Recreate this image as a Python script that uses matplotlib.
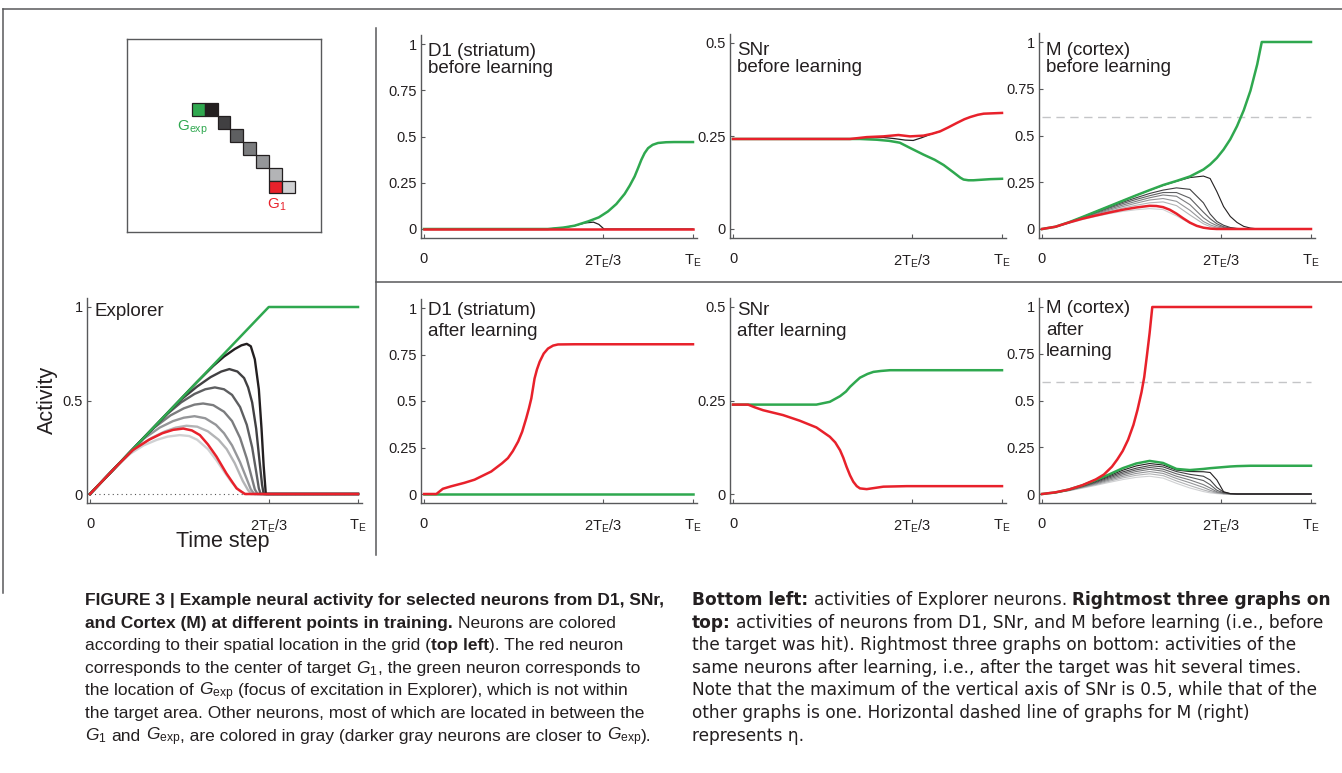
import matplotlib
matplotlib.use('Agg')
import matplotlib.pyplot as plt
from matplotlib.lines import Line2D
from matplotlib.patches import Rectangle

W, H = 1342, 773
plt.rcParams['font.family'] = ['Liberation Sans', 'DejaVu Sans']
plt.rcParams['mathtext.fontset'] = 'custom'
plt.rcParams['mathtext.rm'] = 'Liberation Sans'
plt.rcParams['mathtext.it'] = 'Liberation Sans:italic'
plt.rcParams['mathtext.bf'] = 'Liberation Sans:bold'
LEFT_FONT = ['Liberation Sans', 'DejaVu Sans']
RIGHT_FONT = ['DejaVu Sans']

GREEN = '#2fa84f'
RED = '#e8212b'
TXT = '#231f20'
SPINE = '#58595b'
# black -> lightest gray (neurons from G_exp towards G_1)
SHADES = ['#231f20', '#414042', '#5e5f61', '#7b7c7e', '#959699', '#b3b4b6', '#d0d1d3']

# ---- grid inset (cell column, row, colour) ----
grid_cols = [5, 6, 7, 8, 9, 10, 11, 11, 12]
grid_rows = [5, 5, 6, 7, 8, 9, 10, 11, 11]
grid_colors = [GREEN] + SHADES[:6] + [RED, SHADES[6]]

# ---- Explorer ----
exp_green_t = [0, 0.667, 1.0]
exp_green_v = [0, 1.0, 1.0]
exp_gray_t = [
    [0, 0.2, 0.4, 0.46, 0.5, 0.54, 0.565, 0.585, 0.6, 0.615, 0.63, 0.64, 0.648, 0.656, 1.0],
    [0, 0.2, 0.34, 0.4, 0.45, 0.49, 0.52, 0.55, 0.575, 0.59, 0.605, 0.62, 0.633, 0.642, 0.648, 1.0],
    [0, 0.2, 0.29, 0.34, 0.39, 0.43, 0.466, 0.5, 0.53, 0.56, 0.585, 0.605, 0.62, 0.63, 0.637, 1.0],
    [0, 0.15, 0.24, 0.3, 0.35, 0.39, 0.422, 0.46, 0.5, 0.53, 0.56, 0.585, 0.605, 0.615, 0.625, 1.0],
    [0, 0.15, 0.2, 0.26, 0.31, 0.35, 0.39, 0.43, 0.47, 0.5, 0.53, 0.56, 0.585, 0.6, 0.613, 1.0],
    [0, 0.1, 0.17, 0.23, 0.28, 0.32, 0.36, 0.4, 0.44, 0.48, 0.51, 0.54, 0.57, 0.59, 0.603, 1.0],
    [0, 0.1, 0.15, 0.2, 0.25, 0.29, 0.335, 0.37, 0.4, 0.44, 0.472, 0.5, 0.53, 0.56, 0.58, 1.0],
]
exp_gray_v = [
    [0, 0.30, 0.60, 0.685, 0.735, 0.775, 0.795, 0.803, 0.79, 0.72, 0.56, 0.35, 0.15, 0, 0],
    [0, 0.30, 0.505, 0.575, 0.625, 0.655, 0.668, 0.655, 0.62, 0.57, 0.49, 0.35, 0.17, 0.05, 0, 0],
    [0, 0.30, 0.43, 0.49, 0.535, 0.56, 0.57, 0.56, 0.53, 0.465, 0.37, 0.25, 0.12, 0.03, 0, 0],
    [0, 0.225, 0.355, 0.42, 0.458, 0.478, 0.484, 0.475, 0.44, 0.39, 0.3, 0.19, 0.08, 0.025, 0, 0],
    [0, 0.225, 0.295, 0.355, 0.39, 0.408, 0.416, 0.405, 0.37, 0.325, 0.26, 0.17, 0.08, 0.025, 0, 0],
    [0, 0.15, 0.245, 0.30, 0.335, 0.355, 0.365, 0.36, 0.335, 0.29, 0.24, 0.165, 0.07, 0.02, 0, 0],
    [0, 0.15, 0.215, 0.26, 0.29, 0.307, 0.315, 0.31, 0.29, 0.24, 0.18, 0.12, 0.06, 0.015, 0, 0],
]
exp_red_t = [0, 0.1, 0.16, 0.22, 0.27, 0.31, 0.348, 0.38, 0.41, 0.44, 0.472, 0.509, 0.547, 0.578, 1.0]
exp_red_v = [0, 0.15, 0.235, 0.29, 0.325, 0.343, 0.35, 0.34, 0.315, 0.265, 0.2, 0.11, 0.03, 0, 0]

# ---- D1 before / after ----
d1b_green_t = [0, 0.46, 0.52, 0.56, 0.61, 0.65, 0.684, 0.715, 0.746, 0.765, 0.783, 0.796, 0.808,
               0.82, 0.833, 0.85, 0.87, 0.9, 0.93, 1.0]
d1b_green_v = [0, 0, 0.008, 0.018, 0.041, 0.063, 0.095, 0.135, 0.19, 0.235, 0.284, 0.33, 0.374,
               0.41, 0.437, 0.455, 0.465, 0.469, 0.47, 0.47]
d1b_black_t = [0, 0.46, 0.52, 0.56, 0.6, 0.63, 0.65, 0.669, 1.0]
d1b_black_v = [0, 0, 0.008, 0.018, 0.033, 0.037, 0.025, 0, 0]
d1b_red_t = [0, 1.0]
d1b_red_v = [0, 0]

d1a_red_t = [0, 0.046, 0.07, 0.1, 0.15, 0.188, 0.25, 0.29, 0.312, 0.33, 0.35, 0.365, 0.38, 0.39,
             0.399, 0.411, 0.42, 0.43, 0.445, 0.461, 0.48, 0.498, 0.56, 1.0]
d1a_red_v = [0, 0, 0.028, 0.041, 0.06, 0.077, 0.121, 0.165, 0.193, 0.23, 0.282, 0.335, 0.407, 0.46,
             0.514, 0.621, 0.67, 0.711, 0.755, 0.782, 0.798, 0.804, 0.805, 0.805]
d1a_green_t = [0, 1.0]
d1a_green_v = [0, 0]

# ---- SNr before / after ----
snb_red_t = [0, 0.435, 0.497, 0.559, 0.615, 0.658, 0.708, 0.74, 0.77, 0.8, 0.832, 0.86, 0.882, 0.91, 0.932, 1.0]
snb_red_v = [0.242, 0.242, 0.247, 0.249, 0.2527, 0.249, 0.251, 0.256, 0.2625, 0.273, 0.285, 0.295, 0.301,
             0.307, 0.31, 0.312]
snb_green_t = [0, 0.472, 0.534, 0.58, 0.62, 0.658, 0.708, 0.75, 0.783, 0.82, 0.845, 0.857, 0.875, 0.894, 0.957, 1.0]
snb_green_v = [0.242, 0.242, 0.24, 0.237, 0.232, 0.218, 0.2, 0.186, 0.172, 0.152, 0.138, 0.133, 0.131,
               0.131, 0.134, 0.135]
snb_black_t = [0, 0.435, 0.5, 0.56, 0.6, 0.64, 0.67, 0.7, 0.74, 0.77]
snb_black_v = [0.242, 0.242, 0.245, 0.246, 0.243, 0.239, 0.238, 0.245, 0.256, 0.2625]

sna_green_t = [0, 0.31, 0.36, 0.398, 0.42, 0.435, 0.455, 0.472, 0.5, 0.522, 0.55, 0.584, 0.7, 1.0]
sna_green_v = [0.239, 0.239, 0.2465, 0.2616, 0.274, 0.2865, 0.3, 0.311, 0.321, 0.3265, 0.329, 0.331, 0.331, 0.331]
sna_red_t = [0, 0.056, 0.08, 0.112, 0.186, 0.248, 0.31, 0.36, 0.38, 0.398, 0.41, 0.422, 0.435, 0.447,
             0.46, 0.472, 0.497, 0.559, 0.646, 1.0]
sna_red_v = [0.239, 0.239, 0.232, 0.224, 0.211, 0.196, 0.178, 0.153, 0.138, 0.117, 0.097, 0.073, 0.05,
             0.033, 0.021, 0.015, 0.013, 0.0196, 0.021, 0.021]

# ---- M (cortex) before / after ----
eta = 0.6
tm = [0, 0.05, 0.1, 0.15, 0.2, 0.25, 0.3, 0.35, 0.4, 0.45, 0.5, 0.55, 0.6, 0.625, 0.65, 0.675,
      0.7, 0.725, 0.75, 0.775, 0.8, 0.85, 0.9, 1.0]
mb_gray_v = [
    [0, .012, .036, .064, .093, .122, .151, .18, .207, .233, .255, .275, .283, .27, .2, .12, .067, .035, .014, .005, .001, 0, 0, 0],
    [0, .012, .035, .062, .09, .117, .143, .167, .19, .208, .22, .212, .14, .08, .04, .02, .008, .003, .001, 0, 0, 0, 0, 0],
    [0, .012, .034, .06, .087, .112, .136, .158, .178, .195, .195, .165, .09, .055, .028, .012, .005, .002, 0, 0, 0, 0, 0, 0],
    [0, .012, .034, .058, .083, .106, .128, .148, .167, .182, .175, .13, .06, .035, .018, .008, .003, .001, 0, 0, 0, 0, 0, 0],
    [0, .012, .033, .056, .079, .1, .12, .138, .155, .163, .148, .1, .04, .022, .01, .004, .001, 0, 0, 0, 0, 0, 0, 0],
    [0, .012, .032, .054, .075, .094, .112, .127, .14, .145, .125, .075, .028, .013, .005, .002, 0, 0, 0, 0, 0, 0, 0, 0],
    [0, .011, .03, .05, .067, .082, .094, .103, .109, .104, .07, .03, .008, .003, .001, 0, 0, 0, 0, 0, 0, 0, 0, 0],
]
mb_green_t = [0, 0.05, 0.1, 0.15, 0.2, 0.25, 0.3, 0.35, 0.4, 0.45, 0.5, 0.55, 0.6, 0.625, 0.65, 0.675,
              0.7, 0.725, 0.75, 0.775, 0.8, 0.817, 1.0]
mb_green_v = [0, 0.012, 0.036, 0.064, 0.093, 0.122, 0.151, 0.18, 0.208, 0.235, 0.257, 0.281, 0.318, 0.345,
              0.38, 0.425, 0.48, 0.55, 0.635, 0.74, 0.88, 1.0, 1.0]
mb_red_t = [0, 0.05, 0.1, 0.15, 0.2, 0.25, 0.3, 0.35, 0.4, 0.425, 0.45, 0.475, 0.5, 0.525, 0.55, 0.575,
            0.6, 0.625, 0.65, 1.0]
mb_red_v = [0, 0.012, 0.035, 0.055, 0.072, 0.088, 0.103, 0.115, 0.124, 0.123, 0.117, 0.103, 0.082, 0.057,
            0.034, 0.017, 0.007, 0.002, 0, 0]

ma_gray_v = [
    [0, .008, .023, .044, .07, .098, .127, .15, .163, .155, .128, .12, .119, .115, .075, .012, .002, 0, 0, 0, 0, 0, 0, 0],
    [0, .008, .022, .042, .066, .092, .118, .138, .152, .145, .12, .105, .095, .075, .035, .01, .002, 0, 0, 0, 0, 0, 0, 0],
    [0, .008, .021, .04, .062, .086, .11, .129, .142, .133, .108, .09, .072, .05, .02, .006, .001, 0, 0, 0, 0, 0, 0, 0],
    [0, .007, .02, .038, .058, .08, .102, .12, .132, .122, .095, .075, .05, .032, .012, .004, 0, 0, 0, 0, 0, 0, 0, 0],
    [0, .007, .019, .036, .054, .074, .094, .11, .12, .11, .083, .06, .035, .02, .008, .002, 0, 0, 0, 0, 0, 0, 0, 0],
    [0, .007, .018, .034, .05, .068, .086, .1, .108, .098, .07, .045, .022, .012, .005, .001, 0, 0, 0, 0, 0, 0, 0, 0],
    [0, .006, .017, .031, .046, .062, .077, .089, .095, .085, .057, .032, .013, .006, .002, 0, 0, 0, 0, 0, 0, 0, 0, 0],
]
ma_green_v = [0, .008, .024, .046, .074, .105, .138, .163, .177, .166, .134, .128, .134, .138, .141, .144,
              .147, .149, .15, .151, .151, .151, .151, .151]
ma_red_t = [0, 0.05, 0.1, 0.15, 0.2, 0.23, 0.26, 0.28, 0.3, 0.32, 0.34, 0.355, 0.37, 0.38, 0.39, 0.4, 0.41, 1.0]
ma_red_v = [0, 0.009, 0.024, 0.047, 0.078, 0.104, 0.146, 0.185, 0.23, 0.29, 0.37, 0.45, 0.545, 0.625, 0.74,
            0.86, 1.0, 1.0]

x_tick_labels = ['0', r'$\mathregular{2T_E/3}$', r'$\mathregular{T_E}$']

fig = plt.figure(figsize=(W / 100, H / 100), dpi=100)
fig.patch.set_facecolor('white')


def panel(x0, x1, y0, y1, ymax, yticks, ylabels):
    # x0/x1: pixel column of t=0 and t=T_E, y0/y1: pixel row of 0 and ymax
    dx, dy = x1 - x0, y0 - y1
    left, right = x0 - 0.012 * dx, x0 + 1.015 * dx
    bottom, top = y0 + 0.05 * dy, y1 - 0.05 * dy
    ax = fig.add_axes([left / W, 1 - bottom / H, (right - left) / W, (bottom - top) / H])
    ax.set_xlim(-0.012, 1.015)
    ax.set_ylim(-0.05 * ymax, 1.05 * ymax)
    ax.patch.set_alpha(0)
    for s in ['top', 'right']:
        ax.spines[s].set_visible(False)
    for s in ['left', 'bottom']:
        ax.spines[s].set_color(SPINE)
        ax.spines[s].set_linewidth(1.0)
    ax.set_xticks([0, 2 / 3, 1])
    ax.set_xticklabels(x_tick_labels)
    ax.set_yticks(yticks)
    ax.set_yticklabels(ylabels)
    ax.tick_params(direction='in', length=3, width=0.8, color=SPINE, labelsize=10.5, labelcolor=TXT)
    ax.tick_params(axis='x', pad=10)
    ax.tick_params(axis='y', pad=3)
    return ax


def title(x, y, s, ls=1.0):
    fig.text(x / W, 1 - y / H, s, ha='left', va='top', fontsize=13.5, color=TXT, linespacing=ls)


Y1 = [0, 0.25, 0.5, 0.75, 1]
Y1L = ['0', '0.25', '0.5', '0.75', '1']
YS = [0, 0.25, 0.5]
YSL = ['0', '0.25', '0.5']

# grid inset
ax = fig.add_axes([127 / W, 1 - 232 / H, 194 / W, 193 / H])
ax.set_xlim(0, 15)
ax.set_ylim(15, 0)
ax.set_xticks([])
ax.set_yticks([])
for s in ax.spines.values():
    s.set_color(SPINE)
    s.set_linewidth(1.0)
for c, r, col in zip(grid_cols, grid_rows, grid_colors):
    ax.add_patch(Rectangle((c, r), 1, 1, facecolor=col, edgecolor='#231f20', lw=0.9))
fig.text(177 / W, 1 - 119 / H, r'$\mathregular{G_{exp}}$', color=GREEN, fontsize=11, va='top')
fig.text(267 / W, 1 - 197 / H, r'$\mathregular{G_1}$', color=RED, fontsize=11, va='top')

# Explorer
ax = panel(90, 358, 494, 307, 1.0, [0, 0.5, 1], ['0', '0.5', '1'])
ax.plot([0, 1], [0, 0], color='#555555', lw=0.8, ls=(0, (1, 3)))
for t, v, col in zip(exp_gray_t[::-1], exp_gray_v[::-1], SHADES[::-1]):
    ax.plot(t, v, color=col, lw=1.7)
ax.plot(exp_green_t, exp_green_v, color=GREEN, lw=1.8)
ax.plot(exp_red_t, exp_red_v, color=RED, lw=1.8)
title(94, 303, 'Explorer')
fig.text(47 / W, 1 - 400 / H, 'Activity', rotation=90, ha='center', va='center', fontsize=15.5, color=TXT)
fig.text(223 / W, 1 - 542 / H, 'Time step', ha='center', va='center', fontsize=15.5, color=TXT)

# D1 before
ax = panel(424, 693, 229, 44, 1.0, Y1, Y1L)
ax.plot(d1b_black_t, d1b_black_v, color=SHADES[0], lw=0.9)
ax.plot(d1b_green_t, d1b_green_v, color=GREEN, lw=1.8)
ax.plot(d1b_red_t, d1b_red_v, color=RED, lw=1.8)
title(428, 43, 'D1 (striatum)\nbefore learning')

# SNr before
ax = panel(733, 1002, 229, 43, 0.5, YS, YSL)
ax.plot(snb_black_t, snb_black_v, color=SHADES[0], lw=0.9)
ax.plot(snb_green_t, snb_green_v, color=GREEN, lw=1.8)
ax.plot(snb_red_t, snb_red_v, color=RED, lw=1.8)
title(737, 42, 'SNr\nbefore learning')

# M before
ax = panel(1042, 1311, 229, 42, 1.0, Y1, Y1L)
ax.plot([0, 1], [eta, eta], color='#c4c5c7', lw=1.0, ls=(0, (6, 4)))
for v, col in zip(mb_gray_v[::-1], SHADES[::-1]):
    ax.plot(tm, v, color=col, lw=0.8)
ax.plot(mb_green_t, mb_green_v, color=GREEN, lw=1.8)
ax.plot(mb_red_t, mb_red_v, color=RED, lw=1.8)
title(1046, 42, 'M (cortex)\nbefore learning')

# D1 after
ax = panel(424, 693, 494, 308, 1.0, Y1, Y1L)
ax.plot(d1a_green_t, d1a_green_v, color=GREEN, lw=1.8)
ax.plot(d1a_red_t, d1a_red_v, color=RED, lw=1.8)
title(428, 302, 'D1 (striatum)\nafter learning', 1.3)

# SNr after
ax = panel(733, 1002, 494, 307, 0.5, YS, YSL)
ax.plot(sna_green_t, sna_green_v, color=GREEN, lw=1.8)
ax.plot(sna_red_t, sna_red_v, color=RED, lw=1.8)
title(737, 302, 'SNr\nafter learning', 1.3)

# M after
ax = panel(1042, 1311, 494, 307, 1.0, Y1, Y1L)
ax.plot([0, 1], [eta, eta], color='#c4c5c7', lw=1.0, ls=(0, (6, 4)))
for v, col in zip(ma_gray_v[::-1], SHADES[::-1]):
    ax.plot(tm, v, color=col, lw=0.8)
ax.plot(tm, ma_green_v, color=GREEN, lw=1.8)
ax.plot(ma_red_t, ma_red_v, color=RED, lw=1.8)
title(1046, 300, 'M (cortex)\nafter\nlearning', 1.35)

# frame and separators
for xs, ys in [([3, W], [9, 9]), ([3, 3], [9, 593]), ([376, 376], [28, 555]), ([376, W], [282, 282])]:
    fig.add_artist(Line2D([x / W for x in xs], [1 - y / H for y in ys], color=SPINE, lw=1.1))

# caption
n, b = 'normal', 'bold'
left_lines = [
    [('FIGURE 3 | Example neural activity for selected neurons from D1, SNr,', b)],
    [('and Cortex (M) at different points in training.', b), (' Neurons are colored', n)],
    [('according to their spatial location in the grid (', n), ('top left', b), ('). The red neuron', n)],
    [('corresponds to the center of target ', n), (r'$G_1$', n), (', the green neuron corresponds to', n)],
    [('the location of ', n), (r'$G_\mathrm{exp}$', n), (' (focus of excitation in Explorer), which is not within', n)],
    [('the target area. Other neurons, most of which are located in between the', n)],
    [(r'$G_1$', n), (' and ', n), (r'$G_\mathrm{exp}$', n),
     (', are colored in gray (darker gray neurons are closer to ', n), (r'$G_\mathrm{exp}$', n), (').', n)],
]
left_ends = [665, 643, 637, 663, 663, 665, 655]
right_lines = [
    [('Bottom left:', b), (' activities of Explorer neurons. ', n), ('Rightmost three graphs on', b)],
    [('top:', b), (' activities of neurons from D1, SNr, and M before learning (i.e., before', n)],
    [('the target was hit). Rightmost three graphs on bottom: activities of the', n)],
    [('same neurons after learning, i.e., after the target was hit several times.', n)],
    [('Note that the maximum of the vertical axis of SNr is 0.5, while that of the', n)],
    [('other graphs is one. Horizontal dashed line of graphs for M (right)', n)],
    [('represents η.', n)],
]
right_ends = [1333, 1338, 1300, 1318, 1334, 1256, 775]

renderer = fig.canvas.get_renderer()


def space_w(weight, size, family):
    a = fig.text(0, 0, 'n n', fontsize=size, fontweight=weight, family=family)
    c = fig.text(0, 0, 'nn', fontsize=size, fontweight=weight, family=family)
    w = a.get_window_extent(renderer).width - c.get_window_extent(renderer).width
    a.remove()
    c.remove()
    return w


def draw_runs(x, y, runs, size, family):
    made = []
    for s, w in runs:
        sp = space_w(w, size, family)
        lead = len(s) - len(s.lstrip(' '))
        trail = len(s) - len(s.rstrip(' '))
        x += lead * sp
        t = fig.text(x / W, 1 - y / H, s.strip(' '), fontsize=size, fontweight=w, color=TXT,
                     family=family, ha='left', va='baseline')
        made.append(t)
        x = t.get_window_extent(renderer).x1 + trail * sp
    return x, made


def fit_size(lines, ends, x0, family, size=11.0):
    # largest font size at which no line runs past its end in the picture
    best = None
    for runs, x_end in zip(lines[:-1], ends[:-1]):
        x1, made = draw_runs(x0, 700, runs, size, family)
        for t in made:
            t.remove()
        s = size * (x_end - x0) / (x1 - x0)
        best = s if best is None else min(best, s)
    return best


left_size = fit_size(left_lines, left_ends, 85, LEFT_FONT)
right_size = fit_size(right_lines, right_ends, 692, RIGHT_FONT)
for i, runs in enumerate(left_lines):
    draw_runs(85, 605 + 22.6 * i, runs, left_size, LEFT_FONT)
for i, runs in enumerate(right_lines):
    draw_runs(692, 605 + 22.6 * i, runs, right_size, RIGHT_FONT)

fig.savefig('out.png', dpi=100, facecolor='white')
